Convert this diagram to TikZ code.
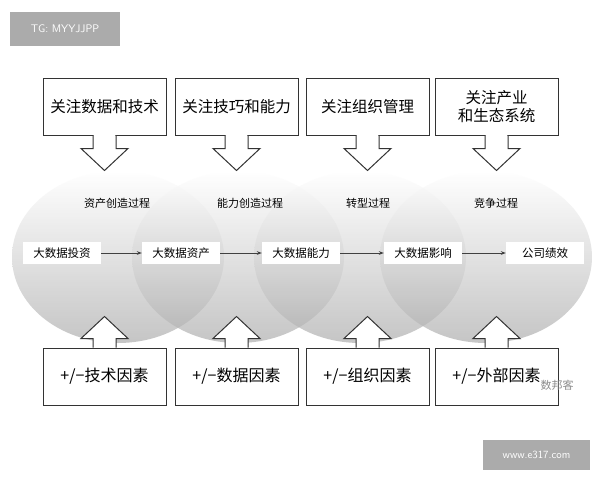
\documentclass[tikz,border=0pt]{standalone}
\usepackage{fontspec}
\newfontfamily\cjk{Noto Sans CJK SC}
\usetikzlibrary{arrows.meta}
\begin{document}
\begin{tikzpicture}[x=1pt,y=-1pt,
  topbox/.style={draw=black!80,line width=1pt,fill=white,minimum width=123pt,minimum height=57pt,inner sep=2pt,font=\cjk\fontsize{15.5}{18}\selectfont,align=center},
  botbox/.style={topbox,minimum height=57pt,font=\cjk\fontsize{16}{19}\selectfont},
  stage/.style={fill=white,inner sep=3pt,minimum height=22pt,minimum width=78pt,font=\cjk\fontsize{11.5}{13}\selectfont},
  proc/.style={font=\cjk\fontsize{11}{13}\selectfont},
  flow/.style={-{Stealth[length=5pt]},black!75,line width=0.8pt},
  bigarrow/.style={draw=black!80,line width=1pt,fill=white}]
\useasboundingbox (0,0) rectangle (600,480);
\fill[white] (0,0) rectangle (600,480);
% circles
\foreach \cx in {118,238,360,486}{
  \shade[top color=white,bottom color=black!32,opacity=0.7] (\cx,257) ellipse [x radius=106,y radius=86];
}
% top boxes
\node[topbox] (t1) at (104.5,106.5) {关注数据和技术};
\node[topbox] (t2) at (236.5,106.5) {关注技巧和能力};
\node[topbox] (t3) at (367.5,106.5) {关注组织管理};
\node[topbox] (t4) at (496.5,106.5) {关注产业\\和生态系统};
\foreach \t in {t1,t2,t3,t4}{
  \draw[white,line width=1.4pt] ([xshift=-10.5pt]\t.south) -- ([xshift=10.5pt]\t.south);
  \draw[bigarrow] ([xshift=-11.5pt]\t.south) -- ++(0,13) -- ++(-12,0) -- ++(23.5,22) -- ++(23.5,-22) -- ++(-12,0) -- ++(0,-13);
}
% bottom boxes
\node[botbox] (b1) at (104.5,376.5) {+/−技术因素};
\node[botbox] (b2) at (236.5,376.5) {+/−数据因素};
\node[botbox] (b3) at (367.5,376.5) {+/−组织因素};
\node[botbox] (b4) at (496.5,376.5) {+/−外部因素};
\foreach \t in {b1,b2,b3,b4}{
  \draw[white,line width=1.4pt] ([xshift=-10.5pt]\t.north) -- ([xshift=10.5pt]\t.north);
  \draw[bigarrow] ([xshift=-11.5pt]\t.north) -- ++(0,-9) -- ++(-12,0) -- ++(23.5,-22) -- ++(23.5,22) -- ++(-12,0) -- ++(0,9);
}
% process labels
\node[proc] (p1) at (117,203) {资产创造过程};
\node[proc] (p2) at (250,203) {能力创造过程};
\node[proc] (p3) at (368,203) {转型过程};
\node[proc] (p4) at (496,203) {竞争过程};
% stages
\node[stage] (s1) at (62,253) {大数据投资};
\node[stage] (s2) at (181,253) {大数据资产};
\node[stage] (s3) at (301,253) {大数据能力};
\node[stage] (s4) at (423,253) {大数据影响};
\node[stage] (s5) at (545,253) {公司绩效};
\draw[flow] (s1) -- (s2);
\draw[flow] (s2) -- (s3);
\draw[flow] (s3) -- (s4);
\draw[flow] (s4) -- (s5);
% watermarks
\node[fill=black!33,text=white,minimum width=110pt,minimum height=34pt,font=\sffamily\fontsize{11}{13}\selectfont] (w1) at (65,29) {TG: MYYJJPP};
\node[fill=black!33,text=white,minimum width=107pt,minimum height=30pt,font=\sffamily\fontsize{11}{13}\selectfont] (w2) at (536.5,455) {www.e317.com};
\node[text=black!45,font=\cjk\fontsize{11}{13}\selectfont] (w3) at (557,385) {数邦客};
\end{tikzpicture}
\end{document}
